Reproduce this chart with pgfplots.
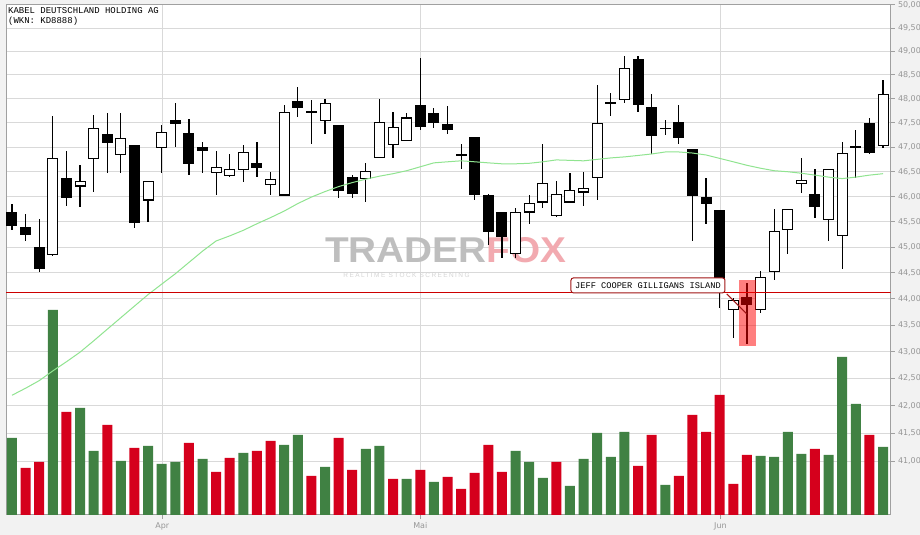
\documentclass[border=0pt]{standalone}
\usepackage{fontspec}
\setmainfont{DejaVu Sans}
\newfontfamily\monofont{Liberation Mono}
\newfontfamily\logofont{Liberation Sans}
\usepackage{pgfplots}
\pgfplotsset{compat=1.18}
\usepackage{pgfplotstable}

\definecolor{bgcol}{RGB}{242,242,242}
\definecolor{gridcol}{RGB}{217,217,217}
\definecolor{axiscol}{RGB}{160,160,160}
\definecolor{labcol}{RGB}{150,150,150}
\definecolor{volgreen}{RGB}{64,129,67}
\definecolor{volred}{RGB}{213,0,28}
\definecolor{magreen}{RGB}{144,228,144}
\definecolor{linered}{RGB}{204,0,0}
\definecolor{boxred}{RGB}{160,20,20}
\definecolor{wmgray}{RGB}{190,190,190}
\definecolor{wmpink}{RGB}{242,170,176}
\definecolor{wmsub}{RGB}{212,212,212}

% falling candles (filled black)
\pgfplotstableread{
i  O     H     L     C
0  45.69 45.85 45.34 45.42
1  45.40 45.65 45.12 45.24
2  45.00 45.55 44.52 44.58
4  46.37 46.92 45.82 45.98
7  47.26 47.70 46.48 47.09
9  47.04 47.04 45.38 45.48
12 47.56 47.91 47.01 47.48
13 47.29 47.58 46.44 46.66
14 47.00 47.11 46.48 46.93
18 46.68 47.11 46.40 46.58
21 47.95 48.25 47.63 47.80
22 47.75 47.98 47.07 47.71
24 47.46 47.46 45.98 46.12
25 46.39 46.43 45.98 46.06
30 47.87 48.85 47.35 47.42
31 47.70 47.81 47.40 47.51
32 47.48 47.85 47.28 47.36
33 46.86 47.06 46.56 46.83
34 47.21 47.21 45.94 46.04
35 46.03 46.05 45.05 45.30
36 45.69 45.69 44.79 45.20
44 47.90 48.12 47.65 47.93
46 48.84 48.90 47.73 47.88
47 47.83 48.09 46.85 47.24
48 47.38 47.56 47.24 47.39
49 47.51 47.87 47.07 47.19
50 46.96 46.96 45.12 46.02
51 45.99 46.38 45.46 45.86
52 45.73 45.73 43.82 44.15
54 44.03 44.30 43.14 43.88
59 46.05 46.55 45.58 45.80
62 47.02 47.35 46.37 46.99
63 47.49 47.60 46.85 46.89
}\downcandles

% rising candles (hollow)
\pgfplotstableread{
i  O     H     L     C
3  44.86 47.64 44.83 46.77
5  46.21 46.64 45.80 46.31
6  46.77 47.66 46.10 47.39
8  46.85 47.70 46.48 47.18
10 45.93 46.31 45.50 46.31
11 47.00 47.46 46.48 47.31
15 46.49 46.92 46.03 46.59
16 46.43 46.86 46.39 46.55
17 46.55 47.04 46.30 46.89
19 46.25 46.49 46.03 46.35
20 46.03 47.87 46.02 47.72
23 47.55 48.00 47.26 47.91
26 46.37 46.68 45.90 46.51
27 46.79 48.00 46.78 47.51
28 47.06 47.73 46.78 47.41
29 47.14 47.71 47.13 47.60
37 44.88 45.77 44.79 45.69
38 45.69 46.03 45.45 45.87
39 45.89 47.06 45.77 46.27
40 45.63 46.31 45.60 46.05
41 45.89 46.47 45.88 46.13
42 46.09 46.49 45.82 46.17
43 46.39 48.29 45.94 47.49
45 47.99 48.90 47.92 48.64
53 43.80 44.01 43.25 43.97
55 43.80 44.53 43.73 44.41
56 44.53 45.75 44.36 45.30
57 45.34 45.75 44.87 45.75
58 46.27 46.78 46.08 46.33
60 45.55 46.55 45.12 46.55
61 45.22 47.10 44.58 46.87
64 47.03 48.40 46.99 48.09
}\upcandles

\pgfplotsset{
  basechart/.style={at={(0,0)}, anchor=south west, scale only axis,
    width=884.5bp, height=510bp, xmin=-0.44, xmax=64.55, enlargelimits=false},
  candlebar/.style={draw=none, fill=none, mark=none, forget plot,
    error bars/.cd, y dir=both, y explicit, error mark=none,
    error bar style={#1}},
}

\begin{document}
\begin{tikzpicture}
\fill[bgcol] (-6bp,-20bp) rectangle (914bp,515bp);

% frame, grid and ticks
\begin{axis}[basechart, ymode=log, ymin=40.05, ymax=50,
  axis background/.style={fill=white},
  axis line style={axiscol, line width=1bp},
  ytick={41,41.5,42,42.5,43,43.5,44,44.5,45,45.5,46,46.5,47,47.5,48,48.5,49,49.5,50},
  yticklabels={{41,00},{41,50},{42,00},{42,50},{43,00},{43,50},{44,00},{44,50},{45,00},{45,50},{46,00},{46,50},{47,00},{47,50},{48,00},{48,50},{49,00},{49,50},{50,00}},
  ytick pos=right, yticklabel pos=right,
  xtick={11.05,30,52.05}, xticklabels={Apr,Mai,Jun}, xtick pos=bottom,
  minor tick num=0,
  tick align=outside, major tick length=4bp,
  tick style={axiscol, line width=1bp},
  ymajorgrids, xmajorgrids,
  grid style={gridcol, line width=1bp},
  ticklabel style={font=\fontsize{8}{9}\selectfont, text=labcol},
]
\addplot[draw=none] coordinates {(0,45)};
\end{axis}

% volume
\begin{axis}[basechart, ymin=0, ymax=510, hide axis, ybar, bar width=10bp]
\addplot[fill=volgreen, draw=none, bar shift=0pt] coordinates {
(0,77) (3,205) (5,107) (6,64) (8,54) (10,69) (11,51) (12,53) (14,56) (17,62)
(20,70) (21,80) (23,48) (26,66) (27,69) (29,36) (31,33) (37,64) (38,53) (39,37)
(41,29) (42,56) (43,82) (44,58) (45,83) (48,30) (55,59) (56,58) (57,83) (58,61)
(60,60) (61,158) (62,111) (64,68)};
\addplot[fill=volred, draw=none, bar shift=0pt] coordinates {
(1,47) (2,53) (4,103) (7,90) (9,67) (13,72) (15,43) (16,57) (18,64) (19,74)
(22,39) (24,77) (25,45) (28,36) (30,45) (32,38) (33,26) (34,42) (35,70) (36,43)
(40,53) (46,49) (47,80) (49,39) (50,100) (51,83) (52,120) (53,31) (54,60) (59,66)
(63,80)};
% watermark
\node[font=\logofont\bfseries\fontsize{36}{36}\selectfont, anchor=center, inner sep=0pt, xscale=1.08]
  at (rel axis cs:0.4969,0.5196) {\textcolor{wmgray}{TRADER}\textcolor{wmpink}{FOX}};
\node[font=\logofont\addfontfeatures{LetterSpace=22}\fontsize{6.5}{7}\selectfont, text=wmsub, inner sep=0pt]
  at (rel axis cs:0.4528,0.4705) {REALTIME STOCK SCREENING};
\end{axis}

% candles and overlays
\begin{axis}[basechart, ymode=log, ymin=40.05, ymax=50, hide axis]
% wicks
\addplot[candlebar={draw=black, line width=1.2bp}] table[x=i,
  y expr={(\thisrow{H}+\thisrow{L})/2}, y error expr={(\thisrow{H}-\thisrow{L})/2}] {\downcandles};
\addplot[candlebar={draw=black, line width=1.2bp}] table[x=i,
  y expr={(\thisrow{H}+\thisrow{L})/2}, y error expr={(\thisrow{H}-\thisrow{L})/2}] {\upcandles};
% bodies
\addplot[candlebar={draw=black, line width=11bp}] table[x=i,
  y expr={(\thisrow{O}+\thisrow{C})/2}, y error expr={abs(\thisrow{O}-\thisrow{C})/2+0.004}] {\downcandles};
\addplot[candlebar={draw=black, line width=11bp}] table[x=i,
  y expr={(\thisrow{O}+\thisrow{C})/2}, y error expr={(\thisrow{C}-\thisrow{O})/2+0.01}] {\upcandles};
\addplot[candlebar={draw=white, line width=9bp}] table[x=i,
  y expr={(\thisrow{O}+\thisrow{C})/2}, y error expr={(\thisrow{C}-\thisrow{O})/2-0.012}] {\upcandles};
% moving average
\addplot[magreen, line width=1bp, mark=none] coordinates {
(0,42.19) (1,42.32) (2,42.46) (3,42.64) (4,42.81) (5,42.99) (6,43.20) (7,43.42)
(8,43.64) (9,43.86) (10,44.08) (11,44.28) (12,44.48) (13,44.70) (14,44.92) (15,45.12)
(16,45.22) (17,45.33) (18,45.46) (19,45.58) (20,45.71) (21,45.86) (22,45.99) (23,46.10)
(24,46.20) (25,46.28) (26,46.35) (27,46.41) (28,46.46) (29,46.52) (30,46.60) (31,46.68)
(32,46.70) (33,46.72) (34,46.70) (35,46.68) (36,46.66) (37,46.66) (38,46.67) (39,46.70)
(40,46.74) (41,46.73) (42,46.72) (43,46.75) (44,46.78) (45,46.80) (46,46.83) (47,46.86)
(48,46.90) (49,46.90) (50,46.88) (51,46.84) (52,46.77) (53,46.70) (54,46.63) (55,46.57)
(56,46.52) (57,46.50) (58,46.47) (59,46.43) (60,46.39) (61,46.36) (62,46.39) (63,46.43)
(64,46.46)};
% support line
\addplot[linered, line width=1.2bp, mark=none] coordinates {(-0.44,44.12) (64.55,44.12)};
% highlighted candle
\addplot[fill=red, draw=none, fill opacity=0.5] coordinates {
(53.44,44.35) (54.66,44.35) (54.66,43.11) (53.44,43.11)} -- cycle;
% annotation
\draw[boxred, line width=1bp] (rel axis cs:0.8148,0.4333) -- (rel axis cs:0.8374,0.3941);
\node[draw=boxred, line width=1bp, fill=white, rounded corners=2.5bp,
  minimum width=154bp, minimum height=15bp, inner sep=0pt,
  font=\monofont\fontsize{8.7}{9}\selectfont]
  at (rel axis cs:0.7258,0.45) {JEFF COOPER GILLIGANS ISLAND};
% title
\node[anchor=base west, inner sep=0pt, font=\monofont\fontsize{9}{10}\selectfont]
  at (rel axis cs:0,1) [xshift=2bp, yshift=-9bp] {KABEL DEUTSCHLAND HOLDING AG};
\node[anchor=base west, inner sep=0pt, font=\monofont\fontsize{9}{10}\selectfont]
  at (rel axis cs:0,1) [xshift=2bp, yshift=-18.5bp] {(WKN: KD8888)};
\end{axis}

\pgfresetboundingbox
\path[use as bounding box] (-6bp,-20bp) rectangle (914bp,515bp);
\end{tikzpicture}
\end{document}
